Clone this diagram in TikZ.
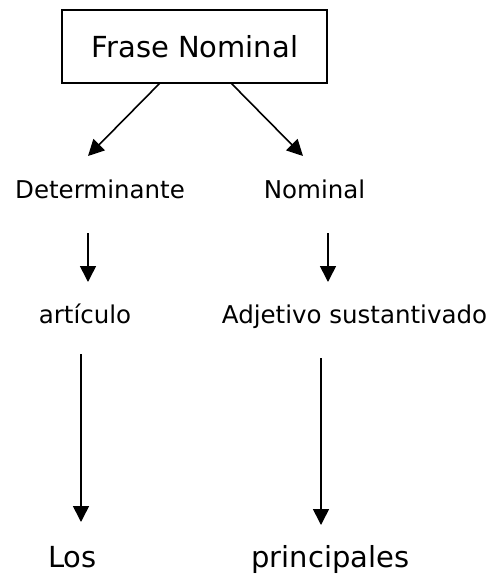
\documentclass[tikz,border=0pt]{standalone}
\usepackage{fontspec}
\setmainfont{DejaVu Sans}
\usetikzlibrary{arrows.meta}
\begin{document}
\begin{tikzpicture}[x=1pt,y=-1pt,
  lbl/.style={anchor=base,inner sep=0pt},
  big/.style={lbl,font=\fontsize{29}{32}\selectfont},
  mid/.style={lbl,font=\fontsize{24.5}{28}\selectfont},
  conn/.style={line width=1.6pt,-{Triangle[length=16pt,width=16pt]}}]
\useasboundingbox (0,0) rectangle (495,576);
\draw[line width=1.8pt] (62,10) rectangle (327,83);
\node[big] (fn) at (195,57) {Frase Nominal};
\node[mid] (det) at (100,198) {Determinante};
\node[mid] (nom) at (314.5,198) {Nominal};
\node[mid] (art) at (85,323) {artículo};
\node[mid] (adj) at (354.5,323) {Adjetivo sustantivado};
\node[big] (los) at (72.5,567) {Los};
\node[big] (pri) at (330.5,567) {principales};
\coordinate (b1) at (160,83);
\coordinate (b2) at (231,83);
\coordinate (t1) at (88,156);
\coordinate (t2) at (303,156);
\coordinate (s1) at (88,233);
\coordinate (e1) at (88,282);
\coordinate (s2) at (328,233);
\coordinate (e2) at (328,282);
\coordinate (s3) at (81,354);
\coordinate (e3) at (81,522);
\coordinate (s4) at (321,358);
\coordinate (e4) at (321,525);
\draw[conn] (b1) -- (t1);
\draw[conn] (b2) -- (t2);
\draw[conn] (s1) -- (e1);
\draw[conn] (s2) -- (e2);
\draw[conn] (s3) -- (e3);
\draw[conn] (s4) -- (e4);
\end{tikzpicture}
\end{document}
